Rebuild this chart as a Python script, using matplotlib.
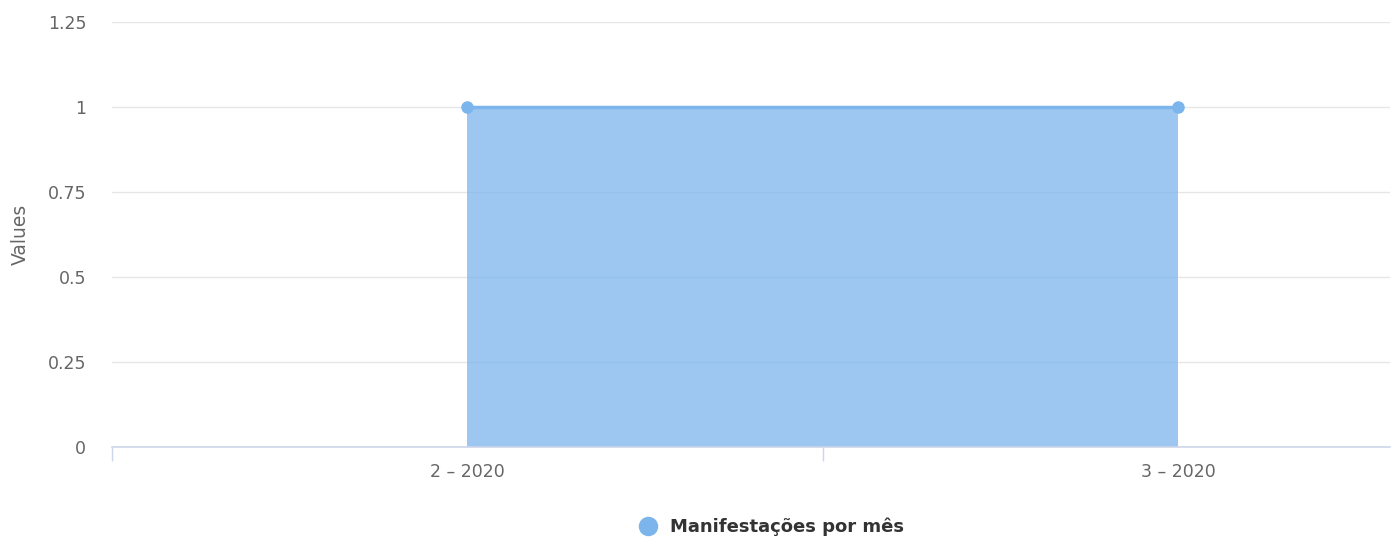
import matplotlib
matplotlib.use("Agg")
import matplotlib.pyplot as plt
from matplotlib.lines import Line2D

categories = ["2 – 2020", "3 – 2020"]
values = [1, 1]
y_ticks = [0, 0.25, 0.5, 0.75, 1, 1.25]
y_tick_labels = ["0", "0.25", "0.5", "0.75", "1", "1.25"]
series_name = "Manifestações por mês"

plt.rcParams["font.family"] = ["DejaVu Sans"]

fig = plt.figure(figsize=(13.99, 5.42), dpi=100)
ax = fig.add_axes([112 / 1399, 95 / 542, (1390 - 112) / 1399, (447 - 22) / 542])

x = list(range(len(categories)))
ax.fill_between(x, values, 0, color="#7cb5ec", alpha=0.75, linewidth=0)
ax.plot(x, values, color="#7cb5ec", linewidth=2.5, marker="o", markersize=8,
        solid_capstyle="butt", zorder=3, clip_on=False)

ax.set_xlim(-0.5, 1.298)
ax.set_ylim(0, 1.25)

ax.set_yticks(y_ticks)
ax.set_yticklabels(y_tick_labels)
ax.yaxis.grid(True, color="#e6e6e6", linewidth=1)
ax.set_axisbelow(True)
ax.tick_params(axis="y", length=0, pad=18.5, labelsize=12.5, labelcolor="#666666")

ax.set_xticks(x)
ax.set_xticklabels(categories)
ax.set_xticks([-0.5, 0.5], minor=True)
ax.tick_params(axis="x", which="major", length=0, pad=11.5, labelsize=12.5, labelcolor="#666666")
ax.tick_params(axis="x", which="minor", length=10, width=1, color="#ccd6eb", direction="out")

for s in ["top", "right", "left"]:
    ax.spines[s].set_visible(False)
ax.spines["bottom"].set_color("#ccd6eb")
ax.spines["bottom"].set_linewidth(1.2)

ax.set_ylabel("Values", color="#666666", fontsize=13.5, labelpad=13)

handle = Line2D([], [], color="#7cb5ec", marker="o", linestyle="none", markersize=13)
fig.legend([handle], [series_name], loc="center", bbox_to_anchor=(0.548, 1 - 527 / 542),
           frameon=False, handletextpad=0.2,
           prop={"weight": "bold", "size": 13})
for t in fig.legends[0].get_texts():
    t.set_color("#333333")

fig.savefig("out.png", dpi=100)
